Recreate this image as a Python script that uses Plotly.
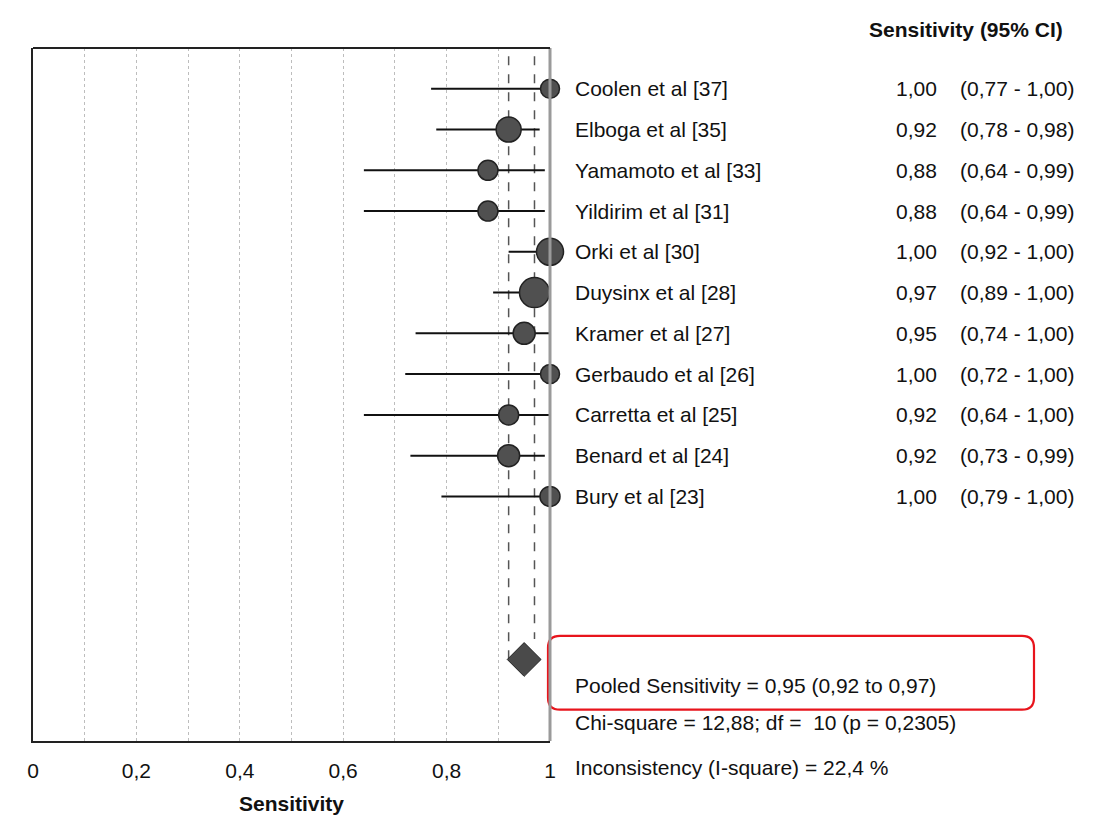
import plotly.graph_objects as go

studies = ["Coolen et al [37]", "Elboga et al [35]", "Yamamoto et al [33]", "Yildirim et al [31]",
           "Orki et al [30]", "Duysinx et al [28]", "Kramer et al [27]", "Gerbaudo et al [26]",
           "Carretta et al [25]", "Benard et al [24]", "Bury et al [23]"]
sens = [1.00, 0.92, 0.88, 0.88, 1.00, 0.97, 0.95, 1.00, 0.92, 0.92, 1.00]
ci_lo = [0.77, 0.78, 0.64, 0.64, 0.92, 0.89, 0.74, 0.72, 0.64, 0.73, 0.79]
ci_hi = [1.00, 0.98, 0.99, 0.99, 1.00, 1.00, 1.00, 1.00, 1.00, 0.99, 1.00]
weights = [19, 25, 20, 20, 27, 30, 22, 19, 20, 22, 20]

pooled_est, pooled_lo, pooled_hi = 0.95, 0.92, 0.97
pooled_lines = ["Pooled Sensitivity = 0,95 (0,92 to 0,97)",
                "Chi-square = 12,88; df =  10 (p = 0,2305)",
                "Inconsistency (I-square) = 22,4 %"]
tick_vals = [0, 0.2, 0.4, 0.6, 0.8, 1.0]
tick_text = ["0", "0,2", "0,4", "0,6", "0,8", "1"]

FONT = "Liberation Sans, Arial, sans-serif"
FS = 21

rows = list(range(len(studies)))
pooled_row = 14

def fmt(v):
    return f"{v:.2f}".replace(".", ",")

def py2paper(py):
    return (741 - py) / 693

fig = go.Figure()

# pooled CI dashed reference lines
fig.add_trace(go.Scatter(x=[pooled_lo, pooled_lo], y=[-0.8, pooled_row], mode="lines",
                         line=dict(color="#555", width=1.5, dash="dash"), hoverinfo="skip"))
fig.add_trace(go.Scatter(x=[pooled_hi, pooled_hi], y=[-0.8, pooled_row - 0.5], mode="lines",
                         line=dict(color="#555", width=1.5, dash="dash"), hoverinfo="skip"))

# study CIs and point estimates
fig.add_trace(go.Scatter(
    x=sens, y=rows, mode="markers",
    error_x=dict(type="data", symmetric=False,
                 array=[h - s for h, s in zip(ci_hi, sens)],
                 arrayminus=[s - l for s, l in zip(sens, ci_lo)],
                 color="#111", thickness=2, width=0),
    marker=dict(size=weights, color="#505050", opacity=1, line=dict(color="#222", width=1.5)),
    cliponaxis=False, hoverinfo="skip"))

# pooled estimate
fig.add_trace(go.Scatter(
    x=[pooled_est], y=[pooled_row], mode="markers",
    error_x=dict(type="data", symmetric=False, array=[0],
                 arrayminus=[pooled_est - pooled_lo], color="#333", thickness=1.5, width=0),
    marker=dict(symbol="diamond", size=26, color="#4a4a4a", opacity=1, line=dict(color="#222", width=1)),
    cliponaxis=False, hoverinfo="skip"))

ann = []
x_name = (573 - 33) / 517
x_val = (939 - 33) / 517
x_ci = (1076 - 33) / 517
for r, name, s, l, h in zip(rows, studies, sens, ci_lo, ci_hi):
    ann.append(dict(x=x_name, y=r, xref="paper", yref="y", text=name, showarrow=False,
                    xanchor="left", yanchor="middle", font=dict(family=FONT, size=FS, color="#111")))
    ann.append(dict(x=x_val, y=r, xref="paper", yref="y", text=fmt(s), showarrow=False,
                    xanchor="right", yanchor="middle", font=dict(family=FONT, size=FS, color="#111")))
    ann.append(dict(x=x_ci, y=r, xref="paper", yref="y", text=f"({fmt(l)} - {fmt(h)})", showarrow=False,
                    xanchor="right", yanchor="middle", font=dict(family=FONT, size=FS, color="#111")))

ann.append(dict(x=(966 - 33) / 517, y=py2paper(30), xref="paper", yref="paper",
                text="<b>Sensitivity (95% CI)</b>", showarrow=False, xanchor="center", yanchor="middle",
                font=dict(family=FONT, size=FS, color="#111")))
for t, py in zip(pooled_lines, [685, 722, 767]):
    ann.append(dict(x=x_name, y=py2paper(py), xref="paper", yref="paper", text=t, showarrow=False,
                    xanchor="left", yanchor="middle", font=dict(family=FONT, size=FS, color="#111")))
ann.append(dict(x=0.5, y=py2paper(803), xref="paper", yref="paper", text="<b>Sensitivity</b>",
                showarrow=False, xanchor="center", yanchor="middle", font=dict(family=FONT, size=FS, color="#111")))

# rounded red box
x0, x1 = (548 - 33) / 517, (1034 - 33) / 517
y0, y1 = (637 - 88) / 40.9, (711 - 88) / 40.9
rx, ry = 12 / 517, 12 / 40.9
path = (f"M {x0+rx},{y0} L {x1-rx},{y0} Q {x1},{y0} {x1},{y0+ry} L {x1},{y1-ry} Q {x1},{y1} {x1-rx},{y1} "
        f"L {x0+rx},{y1} Q {x0},{y1} {x0},{y1-ry} L {x0},{y0+ry} Q {x0},{y0} {x0+rx},{y0} Z")

shapes = [
    dict(type="path", path=path, xref="paper", yref="y", line=dict(color="#e8141c", width=2.2)),
    dict(type="line", xref="paper", yref="paper", x0=1, x1=1, y0=0, y1=1, line=dict(color="#9a9a9a", width=3)),
    dict(type="line", xref="paper", yref="paper", x0=0, x1=1, y0=1, y1=1, line=dict(color="#222", width=2)),
]

fig.update_layout(
    width=1102, height=823, margin=dict(l=33, r=552, t=48, b=82),
    paper_bgcolor="white", plot_bgcolor="white", showlegend=False,
    annotations=ann, shapes=shapes,
    xaxis=dict(range=[0, 1], tickvals=tick_vals, ticktext=tick_text, showgrid=True,
               gridcolor="#bdbdbd", griddash="dot", gridwidth=1,
               minor=dict(dtick=0.1, tick0=0, showgrid=True, gridcolor="#bdbdbd", griddash="dot", gridwidth=1),
               showline=True, linecolor="#222", linewidth=2, zeroline=False,
               ticks="", ticklabelstandoff=10, tickfont=dict(family=FONT, size=FS, color="#111")),
    yaxis=dict(range=[16, -1], showgrid=False, zeroline=False, showticklabels=False,
               showline=True, linecolor="#222", linewidth=2, ticks=""),
)

fig.write_html("out.html")
